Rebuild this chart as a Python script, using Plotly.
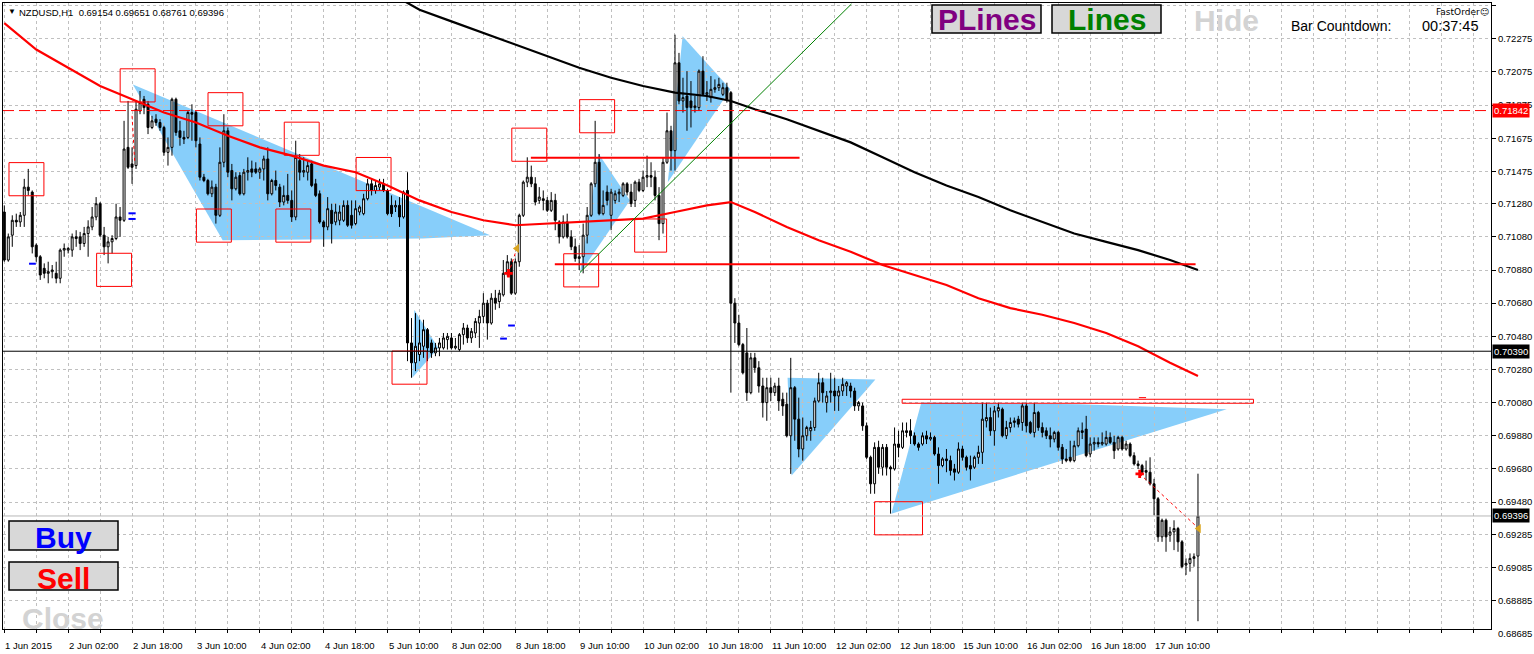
import plotly.graph_objects as go

# ---------------- data ----------------
bar_index = list(range(300))

opens = [
 0.7123,0.7094,0.7109,0.7118,0.7117,0.7121,0.7138,0.7135,0.7103,0.7096,
 0.7089,0.7086,0.7087,0.7086,0.7083,0.7100,0.7100,0.7100,0.7108,0.7108,
 0.7104,0.7110,0.7114,0.7120,0.7128,0.7109,0.7102,0.7105,0.7107,0.7120,
 0.7118,0.7162,0.7152,0.7151,0.7184,0.7191,0.7188,0.7174,0.7179,0.7177,
 0.7174,0.7159,0.7162,0.7191,0.7172,0.7168,0.7168,0.7183,0.7183,0.7164,
 0.7144,0.7142,0.7134,0.7138,0.7121,0.7153,0.7172,0.7148,0.7137,0.7145,
 0.7134,0.7147,0.7149,0.7149,0.7147,0.7149,0.7155,0.7134,0.7142,0.7138,
 0.7129,0.7133,0.7130,0.7120,0.7154,0.7147,0.7147,0.7152,0.7140,0.7134,
 0.7117,0.7114,0.7124,0.7117,0.7118,0.7118,0.7127,0.7121,0.7116,0.7123,
 0.7122,0.7131,0.7140,0.7136,0.7138,0.7140,0.7136,0.7127,0.7126,0.7127,
 0.7120,0.7136,0.7044,0.7032,0.7037,0.7042,0.7052,0.7044,0.7038,0.7041,
 0.7041,0.7046,0.7047,0.7041,0.7040,0.7049,0.7053,0.7047,0.7050,0.7056,
 0.7060,0.7068,0.7056,0.7071,0.7069,0.7073,0.7086,0.7093,0.7074,0.7093,
 0.7121,0.7141,0.7144,0.7140,0.7130,0.7131,0.7130,0.7124,0.7130,0.7117,
 0.7108,0.7117,0.7108,0.7102,0.7095,0.7096,0.7109,0.7121,0.7140,0.7153,
 0.7122,0.7135,0.7121,0.7130,0.7134,0.7133,0.7140,0.7135,0.7130,0.7141,
 0.7136,0.7144,0.7145,0.7144,0.7133,0.7116,0.7153,0.7172,0.7160,0.7213,
 0.7190,0.7193,0.7190,0.7186,0.7186,0.7208,0.7194,0.7192,0.7197,0.7198,
 0.7194,0.7198,0.7195,0.7068,0.7056,0.7043,0.7038,0.7014,0.7035,0.7029,
 0.7018,0.7008,0.7017,0.7014,0.7018,0.7010,0.7007,0.6988,0.7017,0.6998,
 0.6980,0.6988,0.6991,0.6993,0.7009,0.7020,0.7008,0.7014,0.7015,0.7012,
 0.7015,0.7018,0.7018,0.7015,0.7006,0.7006,0.6994,0.6975,0.6959,0.6981,
 0.6969,0.6981,0.6969,0.6968,0.6983,0.6981,0.6991,0.6991,0.6988,0.6983,
 0.6983,0.6988,0.6986,0.6987,0.6977,0.6970,0.6974,0.6973,0.6968,0.6966,
 0.6980,0.6975,0.6970,0.6969,0.6975,0.6978,0.6997,0.6999,0.6991,0.7003,
 0.7004,0.6988,0.6993,0.6996,0.6998,0.6996,0.7006,0.6996,0.6990,0.7002,
 0.6993,0.6991,0.6988,0.6986,0.6990,0.6981,0.6974,0.6975,0.6973,0.6982,
 0.6991,0.6992,0.6977,0.6983,0.6984,0.6983,0.6983,0.6987,0.6984,0.6980,
 0.6987,0.6980,0.6983,0.6976,0.6971,0.6970,0.6967,0.6966,0.6959,0.6950,
 0.6927,0.6937,0.6928,0.6930,0.6932,0.6924,0.6910,0.6911,0.6914,0.69154]

highs = [
 0.7127,0.7110,0.7121,0.7122,0.7123,0.7143,0.7149,0.7136,0.7104,0.7097,
 0.7092,0.7093,0.7091,0.7093,0.7101,0.7104,0.7102,0.7110,0.7112,0.7111,
 0.7114,0.7118,0.7126,0.7132,0.7129,0.7114,0.7108,0.7109,0.7128,0.7126,
 0.7178,0.7190,0.7162,0.7190,0.7196,0.7193,0.7190,0.7181,0.7182,0.7179,
 0.7175,0.7168,0.7192,0.7192,0.7178,0.7172,0.7184,0.7188,0.7184,0.7168,
 0.7146,0.7143,0.7142,0.7140,0.7162,0.7182,0.7174,0.7152,0.7147,0.7147,
 0.7149,0.7156,0.7154,0.7153,0.7150,0.7157,0.7162,0.7143,0.7148,0.7140,
 0.7139,0.7146,0.7136,0.7166,0.7158,0.7156,0.7154,0.7154,0.7143,0.7136,
 0.7118,0.7132,0.7128,0.7128,0.7127,0.7130,0.7130,0.7130,0.7130,0.7127,
 0.7134,0.7143,0.7143,0.7142,0.7143,0.7143,0.7137,0.7133,0.7130,0.7132,
 0.7136,0.7147,0.7059,0.7062,0.7058,0.7058,0.7053,0.7046,0.7044,0.7047,
 0.7050,0.7050,0.7050,0.7047,0.7050,0.7056,0.7055,0.7053,0.7059,0.7064,
 0.7074,0.7070,0.7074,0.7076,0.7076,0.7094,0.7097,0.7095,0.7095,0.7122,
 0.7142,0.7156,0.7151,0.7144,0.7138,0.7136,0.7132,0.7135,0.7134,0.7118,
 0.7121,0.7122,0.7112,0.7107,0.7103,0.7116,0.7126,0.7141,0.7178,0.7158,
 0.7136,0.7139,0.7137,0.7136,0.7137,0.7141,0.7141,0.7140,0.7142,0.7143,
 0.7148,0.7157,0.7153,0.7148,0.7138,0.7156,0.7183,0.7175,0.7230,0.7219,
 0.7204,0.7208,0.7202,0.7193,0.7209,0.7217,0.7202,0.7205,0.7203,0.7204,
 0.7201,0.7201,0.7196,0.7071,0.7061,0.7044,0.7053,0.7038,0.7038,0.7033,
 0.7023,0.7023,0.7023,0.7020,0.7023,0.7014,0.7014,0.7035,0.7018,0.7011,
 0.6999,0.6994,0.6997,0.7011,0.7026,0.7023,0.7015,0.7026,0.7023,0.7018,
 0.7023,0.7021,0.7020,0.7017,0.7009,0.7008,0.6996,0.6976,0.6984,0.6985,
 0.6983,0.6983,0.6970,0.6993,0.6991,0.6996,0.6996,0.6998,0.6990,0.6984,
 0.6990,0.6991,0.6990,0.6988,0.6981,0.6975,0.6980,0.6976,0.6971,0.6984,
 0.6982,0.6976,0.6976,0.6976,0.6982,0.7008,0.7008,0.7005,0.7006,0.7008,
 0.7005,0.6997,0.6999,0.6999,0.7000,0.7008,0.7008,0.6997,0.7008,0.7003,
 0.6996,0.6993,0.6993,0.6991,0.6991,0.6983,0.6980,0.6985,0.6985,0.6993,
 0.6996,0.7000,0.6987,0.6987,0.6987,0.6990,0.6991,0.6990,0.6988,0.6988,
 0.6988,0.6985,0.6984,0.6978,0.6973,0.6971,0.6973,0.6975,0.6962,0.6951,
 0.6938,0.6938,0.6933,0.6937,0.6933,0.6925,0.6914,0.6917,0.6917,0.69651]

lows = [
 0.7093,0.7093,0.7102,0.7114,0.7114,0.7114,0.7133,0.7098,0.7093,0.7082,
 0.7083,0.7080,0.7083,0.7080,0.7080,0.7096,0.7098,0.7096,0.7102,0.7100,
 0.7102,0.7096,0.7112,0.7118,0.7108,0.7097,0.7092,0.7098,0.7106,0.7108,
 0.7117,0.7149,0.7140,0.7149,0.7182,0.7182,0.7170,0.7173,0.7175,0.7172,
 0.7157,0.7151,0.7157,0.7169,0.7163,0.7164,0.7167,0.7166,0.7162,0.7142,
 0.7141,0.7133,0.7132,0.7116,0.7120,0.7150,0.7144,0.7130,0.7136,0.7133,
 0.7133,0.7142,0.7144,0.7146,0.7143,0.7142,0.7130,0.7133,0.7136,0.7126,
 0.7127,0.7128,0.7117,0.7118,0.7142,0.7144,0.7142,0.7138,0.7132,0.7116,
 0.7102,0.7112,0.7104,0.7115,0.7115,0.7117,0.7114,0.7113,0.7115,0.7121,
 0.7121,0.7130,0.7133,0.7134,0.7136,0.7135,0.7121,0.7120,0.7123,0.7114,
 0.7119,0.7033,0.7023,0.7027,0.7033,0.7035,0.7033,0.7035,0.7036,0.7036,
 0.7040,0.7040,0.7040,0.7040,0.7039,0.7043,0.7044,0.7044,0.7047,0.7041,
 0.7056,0.7046,0.7055,0.7064,0.7065,0.7072,0.7084,0.7073,0.7073,0.7090,
 0.7120,0.7138,0.7138,0.7127,0.7128,0.7124,0.7123,0.7123,0.7112,0.7104,
 0.7107,0.7107,0.7100,0.7093,0.7088,0.7086,0.7104,0.7120,0.7138,0.7121,
 0.7121,0.7127,0.7112,0.7128,0.7129,0.7132,0.7133,0.7126,0.7126,0.7135,
 0.7135,0.7138,0.7138,0.7130,0.7106,0.7110,0.7152,0.7148,0.7148,0.7188,
 0.7183,0.7172,0.7174,0.7183,0.7184,0.7193,0.7190,0.7189,0.7195,0.7196,
 0.7193,0.7189,0.7014,0.7044,0.7042,0.7025,0.7009,0.7013,0.7026,0.7014,
 0.6999,0.6997,0.7009,0.7012,0.7003,0.7000,0.6987,0.6965,0.6985,0.6975,
 0.6973,0.6985,0.6985,0.6991,0.7008,0.7008,0.7002,0.7008,0.7003,0.7003,
 0.7012,0.7012,0.7011,0.7003,0.7003,0.6991,0.6974,0.6953,0.6953,0.6965,
 0.6964,0.6964,0.6941,0.6967,0.6975,0.6980,0.6987,0.6983,0.6982,0.6979,
 0.6982,0.6983,0.6985,0.6976,0.6959,0.6969,0.6966,0.6964,0.6961,0.6965,
 0.6973,0.6967,0.6961,0.6968,0.6971,0.6971,0.6993,0.6988,0.6982,0.6999,
 0.6987,0.6986,0.6990,0.6993,0.6993,0.6991,0.6990,0.6989,0.6987,0.6991,
 0.6987,0.6986,0.6981,0.6984,0.6979,0.6971,0.6972,0.6972,0.6972,0.6981,
 0.6986,0.6975,0.6975,0.6979,0.6981,0.6982,0.6982,0.6983,0.6974,0.6979,
 0.6979,0.6979,0.6975,0.6970,0.6968,0.6965,0.6961,0.6958,0.6940,0.6924,
 0.6924,0.6918,0.6924,0.6919,0.6918,0.6908,0.6904,0.6906,0.6909,0.68761]

closes = [
 0.7094,0.7108,0.7118,0.7117,0.7121,0.7138,0.7136,0.7102,0.7096,0.7085,
 0.7086,0.7087,0.7088,0.7083,0.7100,0.7101,0.7101,0.7108,0.7107,0.7104,
 0.7110,0.7114,0.7120,0.7128,0.7109,0.7102,0.7105,0.7107,0.7120,0.7118,
 0.7161,0.7150,0.7150,0.7185,0.7189,0.7186,0.7174,0.7178,0.7177,0.7174,
 0.7159,0.7162,0.7191,0.7171,0.7168,0.7167,0.7183,0.7182,0.7166,0.7144,
 0.7142,0.7134,0.7138,0.7121,0.7153,0.7172,0.7147,0.7137,0.7144,0.7134,
 0.7147,0.7148,0.7147,0.7147,0.7149,0.7155,0.7134,0.7142,0.7139,0.7129,
 0.7133,0.7130,0.7120,0.7156,0.7147,0.7148,0.7151,0.7139,0.7133,0.7117,
 0.7114,0.7125,0.7116,0.7123,0.7123,0.7127,0.7115,0.7115,0.7125,0.7126,
 0.7131,0.7140,0.7136,0.7139,0.7140,0.7136,0.7122,0.7122,0.7127,0.7120,
 0.7135,0.7044,0.7032,0.7042,0.7044,0.7052,0.7041,0.7038,0.7041,0.7044,
 0.7047,0.7048,0.7041,0.7042,0.7049,0.7053,0.7047,0.7051,0.7057,0.7060,
 0.7068,0.7056,0.7071,0.7068,0.7074,0.7086,0.7093,0.7074,0.7093,0.7121,
 0.7141,0.7144,0.7140,0.7129,0.7132,0.7130,0.7124,0.7130,0.7118,0.7108,
 0.7117,0.7108,0.7102,0.7095,0.7096,0.7109,0.7121,0.7140,0.7153,0.7122,
 0.7127,0.7130,0.7135,0.7134,0.7135,0.7140,0.7135,0.7128,0.7141,0.7136,
 0.7144,0.7145,0.7144,0.7133,0.7116,0.7153,0.7172,0.7160,0.7213,0.7190,
 0.7192,0.7186,0.7186,0.7187,0.7208,0.7194,0.7195,0.7197,0.7198,0.7200,
 0.7198,0.7191,0.7068,0.7056,0.7043,0.7026,0.7014,0.7035,0.7029,0.7018,
 0.7008,0.7017,0.7014,0.7018,0.7009,0.7006,0.6988,0.7017,0.6998,0.6980,
 0.6988,0.6993,0.6993,0.7009,0.7020,0.7014,0.7012,0.7015,0.7012,0.7015,
 0.7019,0.7020,0.7015,0.7006,0.7008,0.6994,0.6975,0.6959,0.6981,0.6969,
 0.6981,0.6969,0.6968,0.6983,0.6981,0.6991,0.6990,0.6988,0.6983,0.6981,
 0.6988,0.6986,0.6987,0.6977,0.6970,0.6974,0.6973,0.6967,0.6966,0.6980,
 0.6975,0.6969,0.6968,0.6975,0.6978,0.6998,0.6999,0.6991,0.7003,0.7005,
 0.6988,0.6993,0.6996,0.6997,0.6995,0.7006,0.6994,0.6990,0.7002,0.6993,
 0.6990,0.6988,0.6986,0.6990,0.6981,0.6974,0.6973,0.6973,0.6982,0.6991,
 0.6990,0.6976,0.6983,0.6984,0.6983,0.6984,0.6987,0.6984,0.6979,0.6987,
 0.6980,0.6983,0.6976,0.6971,0.6970,0.6966,0.6966,0.6959,0.6950,0.6927,
 0.6937,0.6927,0.6930,0.6932,0.6924,0.6909,0.6911,0.6914,0.6915,0.69396]

time_label_bars = [0, 16, 32, 48, 64, 80, 96, 112, 128, 144, 160, 176, 192, 208, 224, 240, 256, 272, 288]
time_labels = ["1 Jun 2015", "2 Jun 02:00", "2 Jun 18:00", "3 Jun 10:00", "4 Jun 02:00",
               "4 Jun 18:00", "5 Jun 10:00", "8 Jun 02:00", "8 Jun 18:00", "9 Jun 10:00",
               "10 Jun 02:00", "10 Jun 18:00", "11 Jun 10:00", "12 Jun 02:00", "12 Jun 18:00",
               "15 Jun 10:00", "16 Jun 02:00", "16 Jun 18:00", "17 Jun 10:00"]

price_ticks = [0.72475, 0.72275, 0.72075, 0.71875, 0.71675, 0.71475, 0.71280, 0.71080, 0.70880,
               0.70680, 0.70480, 0.70280, 0.70080, 0.69880, 0.69680, 0.69480, 0.69285, 0.69085,
               0.68885]
price_tick_labels = ["%.5f" % v for v in price_ticks]
bottom_price_label = "0.68685"

ma_red_bars = [0, 8, 16, 24, 32, 40, 48, 56, 64, 72, 80, 88, 96, 104, 112, 120, 128, 136, 144, 152,
               160, 168, 176, 182, 188, 196, 204, 212, 220, 228, 236, 244, 252, 260, 268, 276, 284, 292, 299]
ma_red = [0.7237, 0.7221, 0.7210, 0.7199, 0.7191, 0.7183, 0.7177, 0.7169, 0.7162, 0.7157,
          0.7151, 0.7147, 0.7139, 0.7130, 0.7123, 0.7118, 0.7115, 0.7116, 0.7117, 0.7118,
          0.7119, 0.7123, 0.7127, 0.7129, 0.7123, 0.7114, 0.7106, 0.7099, 0.7091, 0.7085,
          0.7079, 0.7071, 0.7065, 0.7061, 0.7056, 0.7050, 0.7042, 0.7032, 0.7024]

ma_black_bars = [96, 104, 112, 120, 128, 136, 144, 152, 160, 168, 176, 182, 188, 196, 204, 212,
                 220, 228, 236, 244, 252, 260, 268, 276, 284, 292, 299]
ma_black = [0.7256, 0.7245, 0.7238, 0.7231, 0.7224, 0.7217, 0.7210, 0.7204, 0.7199, 0.7195,
            0.7193, 0.7190, 0.7185, 0.7179, 0.7172, 0.7165, 0.7156, 0.7147, 0.7139, 0.7132,
            0.7124, 0.7117, 0.7110, 0.7105, 0.7100, 0.7094, 0.7088]

dashed_level = 0.71842
black_level = 0.70390
bid_level = 0.69396

red_segments = [(131.9, 199.2, 0.71558), (137.9, 298.4, 0.70914)]
red_band = (224.9, 312.9, 0.70100, 0.70076)
green_trend = [(144.2, 0.70865), (212.2, 0.72485)]

triangles = [
    [(32.2, 0.7200), (54.7, 0.7106), (104.9, 0.7107), (121.7, 0.7109)],
    [(102.7, 0.7064), (102.2, 0.7023), (108.7, 0.7041)],
    [(144.2, 0.7086), (148.9, 0.7158), (156.7, 0.7130)],
    [(166.2, 0.7141), (169.9, 0.7229), (181.9, 0.7197)],
    [(196.2, 0.7023), (197.2, 0.6964), (218.2, 0.7022)],
    [(222.2, 0.6941), (229.7, 0.7008), (269.2, 0.7007), (306.2, 0.7004)],
]

# swing boxes: (centre bar, centre price, width in bars)
boxes = [(5.55, 0.71428, 8.75), (33.4, 0.71994, 8.75), (55.4, 0.71850, 8.75), (74.5, 0.71672, 8.75),
         (92.5, 0.71459, 8.75), (131.5, 0.71636, 8.75), (148.5, 0.71808, 8.75), (52.5, 0.71148, 8.75),
         (27.5, 0.70881, 8.75), (72.4, 0.71148, 8.75), (101.5, 0.70291, 8.75), (144.5, 0.70878, 8.75),
         (161.9, 0.71088, 8.0), (224.0, 0.69382, 12.0)]
box_height = 0.0020

blue_marks = [(6.2, 7.9, 0.70918), (31.1, 32.9, 0.71222), (31.1, 32.9, 0.71188),
              (124.2, 125.9, 0.70466), (126.2, 127.9, 0.70545)]
trade_lines = [[(126.3, 0.7086), (128.4, 0.7101)], [(284.4, 0.6965), (299.2, 0.6932)],
               [(32.0, 0.7181), (32.7, 0.7152)]]
trade_entries = [(126.3, 0.7086), (284.4, 0.6965)]
trade_exits = [(128.4, 0.7101), (299.2, 0.6932)]

header_text = "NZDUSD,H1  0.69154 0.69651 0.68761 0.69396"

# ---------------- figure ----------------
FONT = "Liberation Sans"
fig = go.Figure()

fig.add_trace(go.Candlestick(
    x=bar_index, open=opens, high=highs, low=lows, close=closes,
    increasing=dict(line=dict(color="black", width=1), fillcolor="white"),
    decreasing=dict(line=dict(color="black", width=1), fillcolor="black"),
    whiskerwidth=0, hoverinfo="skip", showlegend=False))

fig.add_trace(go.Scatter(x=ma_red_bars, y=ma_red, mode="lines",
                         line=dict(color="#ff0000", width=2.2), hoverinfo="skip", showlegend=False))
fig.add_trace(go.Scatter(x=ma_black_bars, y=ma_black, mode="lines",
                         line=dict(color="black", width=2.2), hoverinfo="skip", showlegend=False))

for seg in trade_lines:
    fig.add_trace(go.Scatter(x=[p[0] for p in seg], y=[p[1] for p in seg], mode="lines",
                             line=dict(color="red", width=1, dash="dot"), hoverinfo="skip", showlegend=False))
fig.add_trace(go.Scatter(x=[p[0] for p in trade_entries], y=[p[1] for p in trade_entries], mode="markers",
                         marker=dict(symbol="cross", size=7, color="red"), hoverinfo="skip", showlegend=False))
fig.add_trace(go.Scatter(x=[p[0] for p in trade_exits], y=[p[1] for p in trade_exits], mode="markers",
                         marker=dict(symbol="triangle-left", size=8, color="#DAA520"), hoverinfo="skip", showlegend=False))

shapes = []
for tri in triangles:
    path = "M " + " L ".join("%s,%s" % (b, p) for b, p in tri) + " Z"
    shapes.append(dict(type="path", xref="x", yref="y", path=path, fillcolor="#87CEFA",
                       line=dict(width=0), layer="below"))
for cb, cp, w in boxes:
    shapes.append(dict(type="rect", xref="x", yref="y", x0=cb - w / 2, x1=cb + w / 2,
                       y0=cp - box_height / 2, y1=cp + box_height / 2,
                       line=dict(color="red", width=1), fillcolor="rgba(0,0,0,0)", layer="above"))
shapes.append(dict(type="line", xref="paper", yref="y", x0=0, x1=1, y0=dashed_level, y1=dashed_level,
                   line=dict(color="red", width=1, dash="11px,5px"), layer="above"))
shapes.append(dict(type="line", xref="paper", yref="y", x0=0, x1=1, y0=black_level, y1=black_level,
                   line=dict(color="black", width=1), layer="above"))
shapes.append(dict(type="line", xref="paper", yref="y", x0=0, x1=1, y0=bid_level, y1=bid_level,
                   line=dict(color="#b8b8b8", width=1), layer="above"))
for b0, b1, p in red_segments:
    shapes.append(dict(type="line", xref="x", yref="y", x0=b0, x1=b1, y0=p, y1=p,
                       line=dict(color="red", width=2), layer="above"))
shapes.append(dict(type="rect", xref="x", yref="y", x0=red_band[0], x1=red_band[1],
                   y0=red_band[2], y1=red_band[3], line=dict(color="red", width=1), layer="above"))
shapes.append(dict(type="line", xref="x", yref="y", x0=green_trend[0][0], y0=green_trend[0][1],
                   x1=green_trend[1][0], y1=green_trend[1][1], line=dict(color="#008000", width=1),
                   layer="above"))
for b0, b1, p in blue_marks:
    shapes.append(dict(type="line", xref="x", yref="y", x0=b0, x1=b1, y0=p, y1=p,
                       line=dict(color="blue", width=2), layer="above"))
shapes.append(dict(type="line", xref="x", yref="y", x0=284.2, x1=286.0, y0=0.7011, y1=0.7011,
                   line=dict(color="red", width=1), layer="above"))

# UI buttons (pixel-sized relative to the plot area)
def button(x0, x1, y0, y1, top):
    return dict(type="rect", xref="paper", yref="paper", xsizemode="pixel", ysizemode="pixel",
                xanchor=0, yanchor=1 if top else 0, x0=x0, x1=x1, y0=y0, y1=y1,
                fillcolor="#d8d8d8", line=dict(color="black", width=1.5), layer="above")

shapes += [button(929, 1038, -2, -30, True), button(1049, 1158, -2, -30, True),
           button(6, 115, 79, 108, False), button(6, 115, 39, 67, False)]

annotations = []

def page_text(text, px, py, size, color, anchor="left", bold=False, family=FONT):
    return dict(xref="paper", yref="paper", x=0, y=1, xshift=px - 2, yshift=-(py - 2),
                xanchor=anchor, yanchor="middle", text=text, showarrow=False, borderpad=0,
                font=dict(family=family, size=size, color=color, weight="bold" if bold else "normal"))

annotations.append(page_text("▼", 6, 10, 8, "black"))
annotations.append(page_text(header_text, 17, 11, 9.5, "black"))
annotations.append(page_text("PLines", 985.5, 18.5, 30, "#800080", "center", True))
annotations.append(page_text("Lines", 1105.5, 18.5, 30, "#008000", "center", True))
annotations.append(page_text("Hide", 1225, 19, 30, "#d3d3d3", "center", True))
annotations.append(page_text("Bar Countdown:", 1289, 25, 14, "black"))
annotations.append(page_text("00:37:45", 1420, 25, 14.5, "black"))
annotations.append(page_text("FastOrder☺", 1489, 11, 9, "black", "right", False, "DejaVu Sans"))
annotations.append(page_text("Buy", 62.5, 536.5, 30, "#0000ff", "center", True))
annotations.append(page_text("Sell", 62.5, 577, 30, "#ff0000", "center", True))
annotations.append(page_text("Close", 62, 617, 30, "#d3d3d3", "center", True))

for b, lab in zip(time_label_bars, time_labels):
    annotations.append(dict(xref="x", yref="paper", x=b, y=0, yshift=-16, xanchor="left",
                            yanchor="middle", text=lab, showarrow=False, borderpad=0,
                            font=dict(family=FONT, size=9.5, color="black")))

annotations.append(dict(xref="paper", yref="paper", x=1, y=0, xshift=6, yshift=-4, xanchor="left",
                        yanchor="middle", text=bottom_price_label, showarrow=False, borderpad=0,
                        font=dict(family=FONT, size=9.5, color="black")))

for level, bg in [(dashed_level, "#ff0000"), (black_level, "black"), (bid_level, "black")]:
    annotations.append(dict(xref="paper", yref="y", x=1, y=level, xshift=1, xanchor="left",
                            yanchor="middle", text="%.5f" % level, showarrow=False, bgcolor=bg,
                            borderpad=1, font=dict(family=FONT, size=9.5, color="white")))

fig.update_layout(
    width=1534, height=654, autosize=False,
    margin=dict(l=2, r=41, t=2, b=25, pad=0),
    paper_bgcolor="white", plot_bgcolor="white",
    showlegend=False, hovermode=False,
    font=dict(family=FONT, size=9.5, color="black"),
    shapes=shapes, annotations=annotations,
)
fig.update_xaxes(range=[-0.325, 372.4], tickvals=list(range(0, 373, 8)), showticklabels=False,
                 ticks="outside", ticklen=3, tickcolor="black",
                 showgrid=True, gridcolor="#c0c0c0", griddash="3px,3px", gridwidth=1,
                 showline=True, linecolor="black", linewidth=1, mirror=True, zeroline=False,
                 rangeslider_visible=False, fixedrange=True)
fig.update_yaxes(side="right", range=[0.68714, 0.72491], tickvals=price_ticks, ticktext=price_tick_labels,
                 ticks="outside", ticklen=4, tickcolor="black", tickfont=dict(family=FONT, size=9.5),
                 showgrid=True, gridcolor="#c0c0c0", griddash="3px,3px", gridwidth=1,
                 showline=True, linecolor="black", linewidth=1, mirror=True, zeroline=False,
                 fixedrange=True)

fig.write_html("out.html", config={"displayModeBar": False})
